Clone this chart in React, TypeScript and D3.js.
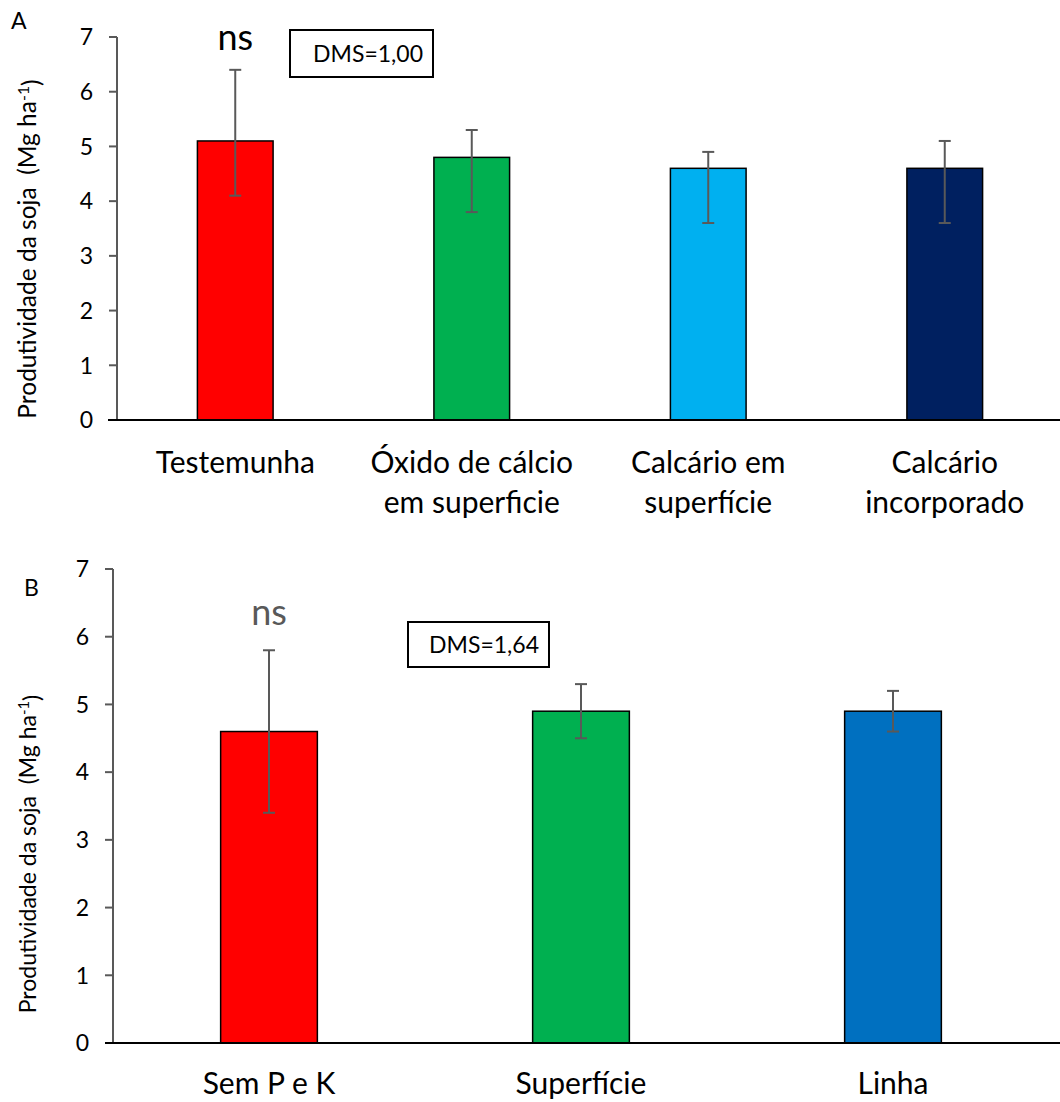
import React from 'react'
import * as d3 from 'd3'

// Painel A – fontes de cálcio
const categoriesA = [['Testemunha'], ['Óxido de cálcio', 'em superficie'], ['Calcário em', 'superfície'], ['Calcário', 'incorporado']]
const valuesA = [5.1, 4.8, 4.6, 4.6]
const upperA = [6.4, 5.3, 4.9, 5.1]
const lowerA = [4.1, 3.8, 3.6, 3.6]
const colorsA = ['#ff0000', '#00b050', '#00b0f0', '#002060']

// Painel B – modo de aplicação de P e K
const categoriesB = [['Sem P e K'], ['Superfície'], ['Linha']]
const valuesB = [4.6, 4.9, 4.9]
const upperB = [5.8, 5.3, 5.2]
const lowerB = [3.4, 4.5, 4.6]
const colorsB = ['#ff0000', '#00b050', '#0070c0']

const yTicks = [0, 1, 2, 3, 4, 5, 6, 7]

const FONT = 'Lato, "Open Sans", sans-serif'
const GREY = '#595959'

type PanelProps = {
    letter: string,
    letterPos: [number, number],
    categories: string[][],
    values: number[],
    upper: number[],
    lower: number[],
    colors: string[],
    yTop: number,
    yBottom: number,
    xLeft: number,
    xRight: number,
    axisStart: number,
    padding: number,
    labelY: number,
    labelCenter: number,
    labelSize: number,
    nsColor: string,
    nsY: number,
    dms: string,
    dmsBox: [number, number, number, number]
}

const Panel = (p: PanelProps) => {
    const x = d3.scaleBand<number>()
        .domain(p.values.map((_, i) => i))
        .range([p.xLeft, p.xRight])
        .paddingInner(p.padding)
        .paddingOuter(p.padding / 2)
    const y = d3.scaleLinear().domain([0, 7]).range([p.yBottom, p.yTop])
    const bw = x.bandwidth()
    const [bx, by, bW, bH] = p.dmsBox

    return (
        <g fontFamily={FONT}>
            <text x={p.letterPos[0]} y={p.letterPos[1]} fontSize={23} fill="#000">{p.letter}</text>

            {/* eixo y */}
            <line x1={p.xLeft} x2={p.xLeft} y1={y(7)} y2={y(0)} stroke={GREY} strokeWidth={2} />
            {yTicks.map((t) => (
                <g key={t}>
                    <line x1={p.xLeft - 8} x2={p.xLeft} y1={y(t)} y2={y(t)} stroke={GREY} strokeWidth={2} />
                    <text x={p.xLeft - 24} y={y(t)} dy="0.36em" textAnchor="end" fontSize={23} fill="#000">{t}</text>
                </g>
            ))}
            <text
                transform={`translate(36,${p.labelCenter}) rotate(-90)`}
                textAnchor="middle"
                fontSize={p.labelSize}
                fill="#000"
                style={{ whiteSpace: 'pre' }}
            >
                {'Produtividade da soja  (Mg ha'}<tspan dy="-0.45em" fontSize={p.labelSize * 0.65}>-1</tspan><tspan dy="0.45em">)</tspan>
            </text>

            {/* barras */}
            {p.values.map((v, i) => (
                <rect key={i} x={x(i)} y={y(v)} width={bw} height={y(0) - y(v)}
                    fill={p.colors[i]} stroke="#000" strokeWidth={1.5} />
            ))}
            {p.values.map((v, i) => {
                const cx = (x(i) as number) + bw / 2
                return (
                    <g key={i} stroke={GREY} strokeWidth={2}>
                        <line x1={cx} x2={cx} y1={y(p.upper[i])} y2={y(p.lower[i])} />
                        <line x1={cx - 6} x2={cx + 6} y1={y(p.upper[i])} y2={y(p.upper[i])} />
                        <line x1={cx - 6} x2={cx + 6} y1={y(p.lower[i])} y2={y(p.lower[i])} />
                    </g>
                )
            })}

            {/* eixo x */}
            <line x1={p.axisStart} x2={1060} y1={y(0)} y2={y(0)} stroke="#000" strokeWidth={2} />
            {p.categories.map((lines, i) => (
                <text key={i} x={(x(i) as number) + bw / 2} y={p.labelY} textAnchor="middle" fontSize={30} fill="#000">
                    {lines.map((l, j) => (
                        <tspan key={j} x={(x(i) as number) + bw / 2} dy={j === 0 ? 0 : '1.33em'}>{l}</tspan>
                    ))}
                </text>
            ))}

            <text x={(x(0) as number) + bw / 2} y={p.nsY} textAnchor="middle" fontSize={36} fill={p.nsColor}>ns</text>

            <rect x={bx} y={by} width={bW} height={bH} fill="#fff" stroke="#000" strokeWidth={2} />
            <text x={bx + bW - 10} y={by + bH / 2} dy="0.36em" textAnchor="end" fontSize={23} fill="#000">{p.dms}</text>
        </g>
    )
}

export default function App() {
    return (
        <svg width={1060} height={1102} style={{ position: 'absolute', left: 0, top: 0, background: '#fff' }}>
            <rect width={1060} height={1102} fill="#fff" />
            <Panel
                letter="A" letterPos={[11, 29]}
                categories={categoriesA} values={valuesA} upper={upperA} lower={lowerA} colors={colorsA}
                yTop={37} yBottom={420} xLeft={117} xRight={1063} axisStart={108}
                padding={0.68} labelY={473} labelCenter={249} labelSize={24.5}
                nsColor="#000" nsY={50} dms="DMS=1,00" dmsBox={[290, 30, 143, 47]}
            />
            <Panel
                letter="B" letterPos={[24, 596]}
                categories={categoriesB} values={valuesB} upper={upperB} lower={lowerB} colors={colorsB}
                yTop={569} yBottom={1043} xLeft={113} xRight={1049} axisStart={105}
                padding={0.69} labelY={1094} labelCenter={854} labelSize={23}
                nsColor={GREY} nsY={625} dms="DMS=1,64" dmsBox={[408, 622, 141, 45]}
            />
        </svg>
    )
}
